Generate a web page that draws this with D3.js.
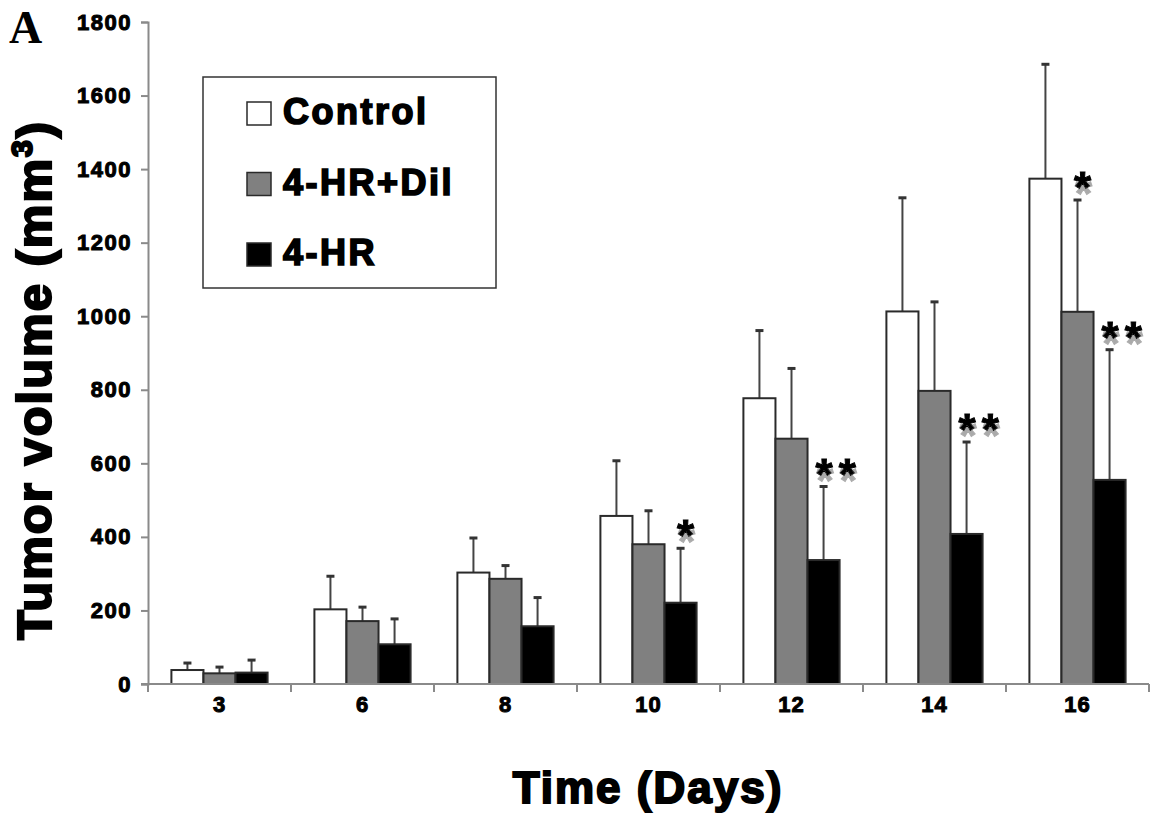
<!DOCTYPE html>
<html>
<head>
<meta charset="utf-8">
<script src="https://cdn.jsdelivr.net/npm/d3@7"></script>
<style>
  body { margin: 0; background: #fff; }
  text { font-family: "Liberation Sans", Arial, sans-serif; font-weight: bold; }
  .heavy { stroke: #000; stroke-width: 1.4px; paint-order: stroke; }
</style>
</head>
<body>
<div id="chart"></div>
<script>
// data
var days = ["3", "6", "8", "10", "12", "14", "16"];
var groups = ["Control", "4-HR+Dil", "4-HR"];
var control    = [38, 203, 303, 457, 777, 1013, 1374];
var controlErr = [19, 90, 94, 150, 184, 309, 311];
var hrDil      = [29, 171, 286, 380, 667, 797, 1012];
var hrDilErr   = [17, 38, 36, 91, 191, 242, 304];
var hr         = [31, 108, 157, 221, 337, 408, 555];
var hrErr      = [34, 69, 78, 148, 200, 250, 354];
var hrDilMarks = ["", "", "", "", "", "", "*"];
var hrMarks    = ["", "", "", "*", "**", "**", "**"];
var yTicks = [0, 200, 400, 600, 800, 1000, 1200, 1400, 1600, 1800];

var fills = {"Control": "#ffffff", "4-HR+Dil": "#808080", "4-HR": "#000000"};

var width = 1165, height = 821;
var margin = {top: 22, right: 16, bottom: 137, left: 148};

var svg = d3.select("#chart").append("svg")
    .attr("width", width)
    .attr("height", height);

// grey drop shadow under the significance stars
var shadow = svg.append("defs").append("filter")
    .attr("id", "starShadow")
    .attr("x", "-50%").attr("y", "-50%")
    .attr("width", "200%").attr("height", "250%");
shadow.append("feOffset").attr("in", "SourceAlpha").attr("dx", 1).attr("dy", 6).attr("result", "off");
shadow.append("feFlood").attr("flood-color", "#aaaaaa").attr("result", "grey");
shadow.append("feComposite").attr("in", "grey").attr("in2", "off").attr("operator", "in").attr("result", "sh");
var merge = shadow.append("feMerge");
merge.append("feMergeNode").attr("in", "sh");
merge.append("feMergeNode").attr("in", "SourceGraphic");

var x0 = d3.scaleBand()
    .domain(days)
    .range([margin.left, width - margin.right])
    .padding(0);

var x1 = d3.scaleBand()
    .domain(groups)
    .range([0, x0.bandwidth()])
    .paddingInner(0)
    .paddingOuter(0.73);

var y = d3.scaleLinear()
    .domain([0, 1800])
    .range([height - margin.bottom, margin.top]);

var rows = [];
days.forEach(function(d, i) {
  rows.push({day: d, group: "Control", value: control[i], err: controlErr[i], mark: ""});
  rows.push({day: d, group: "4-HR+Dil", value: hrDil[i], err: hrDilErr[i], mark: hrDilMarks[i]});
  rows.push({day: d, group: "4-HR", value: hr[i], err: hrErr[i], mark: hrMarks[i]});
});

// y axis
var yAxis = d3.axisLeft(y).tickValues(yTicks).tickFormat(d3.format("d")).tickSize(7).tickPadding(9);
var gy = svg.append("g")
    .attr("transform", "translate(" + margin.left + ",0)")
    .call(yAxis);
gy.select(".domain").attr("stroke", "#8a8a8a").attr("stroke-width", 2);
gy.selectAll(".tick line").attr("stroke", "#8a8a8a").attr("stroke-width", 2);
gy.selectAll(".tick text")
    .attr("fill", "#000")
    .attr("class", "heavy")
    .style("font-size", "22px")
    .style("letter-spacing", "1.5px")
    .style("stroke-width", "1px");

// bars
var bar = svg.append("g").selectAll("g")
    .data(rows)
  .enter().append("g")
    .attr("transform", function(d) { return "translate(" + (x0(d.day) + x1(d.group)) + ",0)"; });

// error bars first so the bar outline covers the base
bar.append("line")
    .attr("x1", x1.bandwidth() / 2)
    .attr("x2", x1.bandwidth() / 2)
    .attr("y1", function(d) { return y(d.value); })
    .attr("y2", function(d) { return y(d.value + d.err); })
    .attr("stroke", "#444")
    .attr("stroke-width", 2);

bar.append("line")
    .attr("x1", x1.bandwidth() / 2 - 4)
    .attr("x2", x1.bandwidth() / 2 + 4)
    .attr("y1", function(d) { return y(d.value + d.err); })
    .attr("y2", function(d) { return y(d.value + d.err); })
    .attr("stroke", "#333")
    .attr("stroke-width", 3);

bar.append("rect")
    .attr("x", 0)
    .attr("width", x1.bandwidth())
    .attr("y", function(d) { return y(d.value); })
    .attr("height", function(d) { return y(0) - y(d.value); })
    .attr("fill", function(d) { return fills[d.group]; })
    .attr("stroke", "#2a2a2a")
    .attr("stroke-width", 2);

// significance stars
bar.filter(function(d) { return d.mark !== ""; })
  .append("text")
    .attr("x", function(d) { return d.mark === "**" ? x1.bandwidth() / 2 - 8 : x1.bandwidth() / 2 + 5; })
    .attr("y", function(d) { return y(d.value + d.err) + 3; })
    .attr("text-anchor", function(d) { return d.mark === "**" ? "start" : "middle"; })
    .attr("fill", "#000")
    .attr("stroke", "#000")
    .attr("stroke-width", 1)
    .attr("filter", "url(#starShadow)")
    .style("font-size", "44px")
    .style("letter-spacing", function(d) { return d.mark === "**" ? "6px" : "0px"; })
    .text(function(d) { return d.mark; });

// x axis
var xAxis = d3.axisBottom(x0).tickSize(0).tickPadding(12);
var gx = svg.append("g")
    .attr("transform", "translate(0," + y(0) + ")")
    .call(xAxis);
gx.select(".domain").attr("stroke", "#8a8a8a").attr("stroke-width", 2)
    .attr("d", "M" + (margin.left - 7) + ",0H" + (width - margin.right));
gx.selectAll(".tick text")
    .attr("fill", "#000")
    .attr("class", "heavy")
    .style("font-size", "22px")
    .style("letter-spacing", "1px")
    .style("stroke-width", "1px");

// category boundary ticks
var bounds = days.map(function(d) { return x0(d); }).concat([x0(days[days.length - 1]) + x0.bandwidth()]);
gx.selectAll(".bound")
    .data(bounds)
  .enter().append("line")
    .attr("x1", function(d) { return d; })
    .attr("x2", function(d) { return d; })
    .attr("y1", 0)
    .attr("y2", 8)
    .attr("stroke", "#8a8a8a")
    .attr("stroke-width", 2);

// axis titles
svg.append("text")
    .attr("x", 648)
    .attr("y", 803)
    .attr("text-anchor", "middle")
    .attr("class", "heavy")
    .style("font-size", "44px")
    .style("letter-spacing", "2px")
    .style("stroke-width", "2px")
    .text("Time (Days)");

var ytitle = svg.append("text")
    .attr("transform", "translate(51,380) rotate(-90)")
    .attr("text-anchor", "middle")
    .attr("class", "heavy")
    .style("font-size", "49px")
    .style("letter-spacing", "2px")
    .style("stroke-width", "2.2px");
ytitle.append("tspan").text("Tumor volume (mm");
ytitle.append("tspan").attr("dy", -19).style("font-size", "30px").text("3");
ytitle.append("tspan").attr("dy", 19).text(")");

// panel letter
svg.append("text")
    .attr("x", 9)
    .attr("y", 43)
    .style("font-family", "'Liberation Serif', 'Times New Roman', serif")
    .style("font-size", "46px")
    .text("A");

// legend
var legend = svg.append("g").attr("transform", "translate(203,77)");
legend.append("rect")
    .attr("width", 293)
    .attr("height", 211)
    .attr("fill", "#fff")
    .attr("stroke", "#333")
    .attr("stroke-width", 1.5);

var item = legend.selectAll(".item")
    .data(groups)
  .enter().append("g")
    .attr("transform", function(d, i) { return "translate(44," + (25 + i * 70.5) + ")"; });

item.append("rect")
    .attr("width", 24)
    .attr("height", 23)
    .attr("fill", function(d) { return fills[d]; })
    .attr("stroke", "#2a2a2a")
    .attr("stroke-width", 1.5);

item.append("text")
    .attr("x", 36)
    .attr("y", 22)
    .attr("class", "heavy")
    .style("font-size", "36px")
    .style("letter-spacing", "2.5px")
    .style("stroke-width", "1.7px")
    .text(function(d) { return d; });
</script>
</body>
</html>
